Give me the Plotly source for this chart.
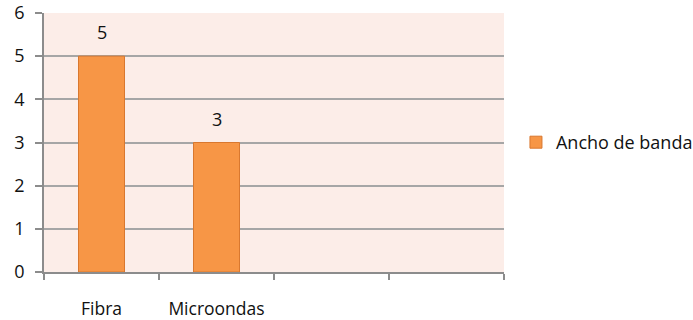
import plotly.graph_objects as go

# Chart data
categories = ["Fibra", "Microondas", " ", "  "]
values = [5, 3, None, None]
series_name = "Ancho de banda"
y_ticks = [0, 1, 2, 3, 4, 5, 6]

FONT = "Open Sans"
bar_fill = "#F79646"
bar_edge = "#D9782F"
plot_bg = "#FCEDE8"
grid = "#A6A6A6"
axis = "#8C8C8C"
ink = "#111111"

fig = go.Figure()
fig.add_trace(go.Bar(
    x=categories,
    y=values,
    name=series_name,
    width=0.4,
    marker=dict(color=bar_fill, line=dict(color=bar_edge, width=1)),
    showlegend=True,
))

# value labels above each bar
for c, v in zip(categories, values):
    if v is not None:
        fig.add_annotation(
            x=c, y=v, text=str(v), showarrow=False,
            yanchor="bottom", yshift=10,
            font=dict(family=FONT, size=18, color=ink),
        )

fig.update_layout(
    width=693, height=320,
    margin=dict(l=44, r=189, t=13, b=48, autoexpand=False),
    paper_bgcolor="white",
    plot_bgcolor=plot_bg,
    font=dict(family=FONT, size=17, color=ink),
    bargap=0.6,
    legend=dict(
        x=1.026, y=0.5, xanchor="left", yanchor="middle",
        font=dict(family=FONT, size=18, color=ink),
        itemwidth=30,
    ),
)
fig.update_xaxes(
    type="category",
    categoryorder="array", categoryarray=categories,
    tickson="boundaries",
    ticks="outside", ticklen=6, tickcolor=axis, tickwidth=1.5,
    showline=True, linecolor=axis, linewidth=1.5,
    showgrid=False,
    automargin=False,
    ticklabelstandoff=20,
    tickfont=dict(family=FONT, size=17.5),
)
fig.update_yaxes(
    range=[0, 6],
    tickvals=y_ticks,
    ticks="outside", ticklen=7, tickcolor=axis, tickwidth=1.5,
    showline=True, linecolor=axis, linewidth=1.5,
    showgrid=True, gridcolor=grid, gridwidth=1.5,
    zeroline=False,
    automargin=False,
    ticklabelstandoff=7,
    tickfont=dict(family=FONT, size=18),
)

fig.write_html("out.html")
